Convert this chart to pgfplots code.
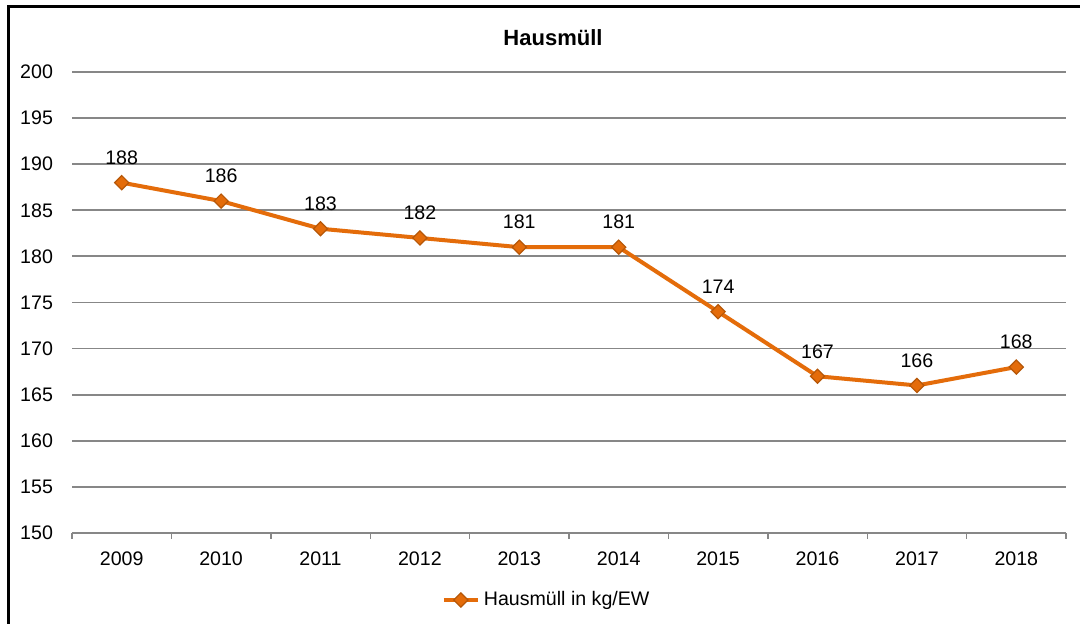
\documentclass[border=0pt]{standalone}
\usepackage{pgfplots}
\pgfplotsset{compat=1.18}
\usepackage{fontspec}
\setmainfont{Liberation Sans}
\definecolor{lineor}{HTML}{E46C0A}
\definecolor{markedge}{HTML}{B65708}
\definecolor{gridgray}{HTML}{878787}
\begin{document}
\begin{tikzpicture}[x=1pt,y=1pt]
\useasboundingbox (0,0) rectangle (540,312);
\fill[white] (0,0) rectangle (540,312);
\draw[black,line width=1.5pt] (4,0) -- (4,308.5) -- (540,308.5);
\node[font=\fontsize{11}{13}\selectfont\bfseries] at (276.5,293) {Hausmüll};
\begin{axis}[
  at={(36pt,45.5pt)}, anchor=south west,
  scale only axis, width=497pt, height=230.5pt,
  xmin=-0.5, xmax=9.5, ymin=150, ymax=200,
  ytick={150,155,...,200},
  xtick={0,...,9},
  xticklabels={2009,2010,2011,2012,2013,2014,2015,2016,2017,2018},
  minor xtick={-0.5,0.5,...,9.5},
  major tick length=0pt,
  minor tick length=3pt,
  tick align=outside,
  x tick style={gridgray, line width=0.7pt},
  y tick style={draw=none},
  axis x line*=bottom,
  axis y line*=left,
  y axis line style={draw=none},
  x axis line style={gridgray, line width=0.9pt, -},
  ymajorgrids,
  xmajorgrids=false, xminorgrids=false,
  grid style={gridgray, line width=0.9pt},
  tick label style={font=\fontsize{9.8}{11}\selectfont},
  /pgf/number format/assume math mode=true,
  yticklabel style={anchor=east, xshift=-6pt},
  xticklabel style={yshift=-6pt},
  clip=false,
  nodes near coords,
  every node near coord/.append style={font=\fontsize{9.8}{11}\selectfont, anchor=center, yshift=12.5pt, black},
  legend style={at={(0.4785,-0.1453)}, anchor=center, draw=none, fill=none, font=\fontsize{9.8}{11}\selectfont, legend cell align=left},
]
\addplot[lineor, line width=2pt, mark=square*, mark size=2.5pt,
  mark options={fill=lineor, draw=markedge, line width=0.6pt, rotate=45}]
  coordinates {(0,188) (1,186) (2,183) (3,182) (4,181) (5,181) (6,174) (7,167) (8,166) (9,168)};
\addlegendentry{Hausmüll in kg/EW}
\end{axis}
\end{tikzpicture}
\end{document}
